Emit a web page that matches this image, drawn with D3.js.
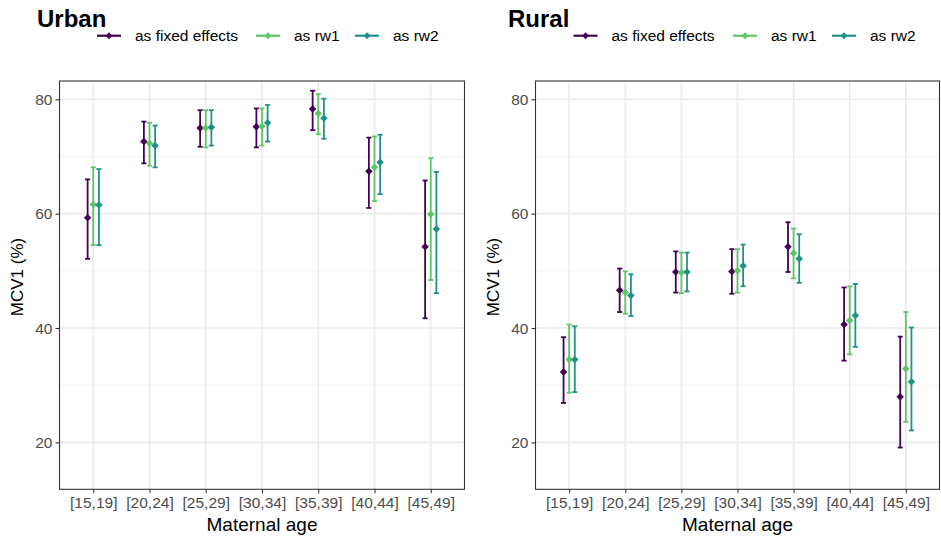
<!DOCTYPE html>
<html>
<head>
<meta charset="utf-8">
<script src="https://cdn.jsdelivr.net/npm/d3@7"></script>
<style>
  html, body { margin: 0; padding: 0; background: #fff; }
  svg { display: block; font-family: "Liberation Sans", Arial, Helvetica, sans-serif; }
</style>
</head>
<body>
<svg id="chart" width="941" height="539"></svg>
<script>
// Maternal age groups on the x axis
const categories = ["[15,19]", "[20,24]", "[25,29]", "[30,34]", "[35,39]", "[40,44]", "[45,49]"];
const seriesNames = ["as fixed effects", "as rw1", "as rw2"];
const seriesColors = ["#440154", "#5DC863", "#21908C"];
const yTicks = [20, 40, 60, 80];
const yMinorTicks = [30, 50, 70];

// Estimates as [mean, lower, upper], one row per age group
const urbanFixed = [[59.3, 52.1, 66.0], [72.6, 68.8, 76.1], [75.0, 71.7, 78.1], [75.2, 71.6, 78.4], [78.3, 74.6, 81.5], [67.4, 61.0, 73.3], [54.2, 41.7, 65.8]];
const urbanRw1   = [[61.6, 54.5, 68.1], [72.3, 68.4, 75.9], [75.0, 71.6, 78.1], [75.3, 71.9, 78.4], [77.5, 73.9, 80.9], [68.1, 62.2, 73.5], [59.9, 48.4, 69.7]];
const urbanRw2   = [[61.5, 54.5, 67.8], [71.9, 68.1, 75.4], [75.1, 71.9, 78.1], [75.9, 72.6, 79.0], [76.7, 73.1, 80.1], [69.0, 63.4, 73.8], [57.3, 46.1, 67.3]];

const ruralFixed = [[32.3, 26.9, 38.4], [46.6, 42.8, 50.4], [49.8, 46.2, 53.4], [49.9, 46.0, 53.8], [54.2, 49.8, 58.5], [40.6, 34.3, 47.1], [28.0, 19.1, 38.5]];
const ruralRw1   = [[34.5, 28.7, 40.6], [46.2, 42.5, 49.9], [49.7, 46.1, 53.2], [50.0, 46.2, 53.8], [53.1, 48.7, 57.4], [41.3, 35.4, 47.3], [32.9, 23.6, 42.8]];
const ruralRw2   = [[34.5, 28.8, 40.3], [45.7, 42.1, 49.4], [49.8, 46.4, 53.2], [50.9, 47.3, 54.6], [52.1, 47.9, 56.4], [42.2, 36.7, 47.7], [30.6, 22.1, 40.1]];

const panels = [
  { title: "Urban", series: [urbanFixed, urbanRw1, urbanRw2], left: 59.5, right: 464.5, titleX: 37, axisTitleX: 17, legendX: [97, 256, 355] },
  { title: "Rural", series: [ruralFixed, ruralRw1, ruralRw2], left: 535.5, right: 939.5, titleX: 508, axisTitleX: 493, legendX: [573.5, 733, 832] }
];

const svg = d3.select("#chart");
const panelTop = 81, panelBottom = 489.3;
const y = d3.scaleLinear().domain([11.8, 83.2]).range([panelBottom, panelTop]);

panels.forEach(p => {
  const g = svg.append("g");
  const x = d3.scalePoint().domain(categories).range([p.left, p.right]).padding(0.6);
  const step = x.step();
  const dodge = 0.1 * step;
  const capHalf = 0.045 * step;

  // panel background and grid
  g.append("rect").attr("x", p.left).attr("y", panelTop).attr("width", p.right - p.left).attr("height", panelBottom - panelTop).attr("fill", "#fff");
  g.selectAll(".ymin").data(yMinorTicks).join("line")
    .attr("x1", p.left).attr("x2", p.right).attr("y1", d => y(d)).attr("y2", d => y(d))
    .attr("stroke", "#F2F2F2").attr("stroke-width", 1);
  g.selectAll(".ymaj").data(yTicks).join("line")
    .attr("x1", p.left).attr("x2", p.right).attr("y1", d => y(d)).attr("y2", d => y(d))
    .attr("stroke", "#EBEBEB").attr("stroke-width", 1.6);
  g.selectAll(".xmaj").data(categories).join("line")
    .attr("x1", d => x(d)).attr("x2", d => x(d)).attr("y1", panelTop).attr("y2", panelBottom)
    .attr("stroke", "#EBEBEB").attr("stroke-width", 1.6);

  // axes
  const yAxis = d3.axisLeft(y).tickValues(yTicks).tickSize(4).tickPadding(3).tickFormat(d3.format("d"));
  const ya = g.append("g").attr("transform", `translate(${p.left},0)`).call(yAxis);
  const xAxis = d3.axisBottom(x).tickSize(4).tickPadding(4);
  const xa = g.append("g").attr("transform", `translate(0,${panelBottom})`).call(xAxis);
  [ya, xa].forEach(a => {
    a.select(".domain").remove();
    a.selectAll(".tick line").attr("stroke", "#333333").attr("stroke-width", 1.1);
    a.selectAll(".tick text").attr("fill", "#4D4D4D").attr("font-size", 15.5).attr("font-family", "Liberation Sans, Arial, sans-serif");
  });

  // error bars and points
  p.series.forEach((rows, si) => {
    const color = seriesColors[si];
    const off = (si - 1) * dodge;
    const sg = g.append("g");
    rows.forEach((r, i) => {
      const cx = x(categories[i]) + off;
      sg.append("line").attr("x1", cx).attr("x2", cx).attr("y1", y(r[1])).attr("y2", y(r[2]))
        .attr("stroke", color).attr("stroke-width", 1.8);
      [r[1], r[2]].forEach(v => {
        sg.append("line").attr("x1", cx - capHalf).attr("x2", cx + capHalf).attr("y1", y(v)).attr("y2", y(v))
          .attr("stroke", color).attr("stroke-width", 1.8);
      });
      sg.append("path").attr("d", d3.symbol(d3.symbolDiamond2, 36)())
        .attr("transform", `translate(${cx},${y(r[0])})`).attr("fill", color);
    });
  });

  // panel border
  g.append("rect").attr("x", p.left).attr("y", panelTop).attr("width", p.right - p.left).attr("height", panelBottom - panelTop)
    .attr("fill", "none").attr("stroke", "#333333").attr("stroke-width", 1.1);

  // titles
  g.append("text").attr("x", p.titleX).attr("y", 27).attr("font-size", 24).attr("font-weight", "bold").attr("fill", "#000").text(p.title);
  g.append("text").attr("x", (p.left + p.right) / 2).attr("y", 531).attr("text-anchor", "middle")
    .attr("font-size", 19).attr("fill", "#000").text("Maternal age");
  g.append("text").attr("transform", `translate(${p.axisTitleX},277) rotate(-90)`)
    .attr("text-anchor", "middle").attr("dy", "0.35em").attr("font-size", 17).attr("fill", "#000").text("MCV1 (%)");

  // legend
  const ly = 35.7;
  seriesNames.forEach((name, si) => {
    const lx = p.legendX[si];
    g.append("line").attr("x1", lx).attr("x2", lx + 24).attr("y1", ly).attr("y2", ly)
      .attr("stroke", seriesColors[si]).attr("stroke-width", 2.2);
    g.append("path").attr("d", d3.symbol(d3.symbolDiamond2, 30)())
      .attr("transform", `translate(${lx + 12},${ly})`).attr("fill", seriesColors[si]);
    g.append("text").attr("x", lx + 38).attr("y", ly).attr("dy", "0.35em")
      .attr("font-size", 15.5).attr("fill", "#000").text(name);
  });
});
</script>
</body>
</html>
